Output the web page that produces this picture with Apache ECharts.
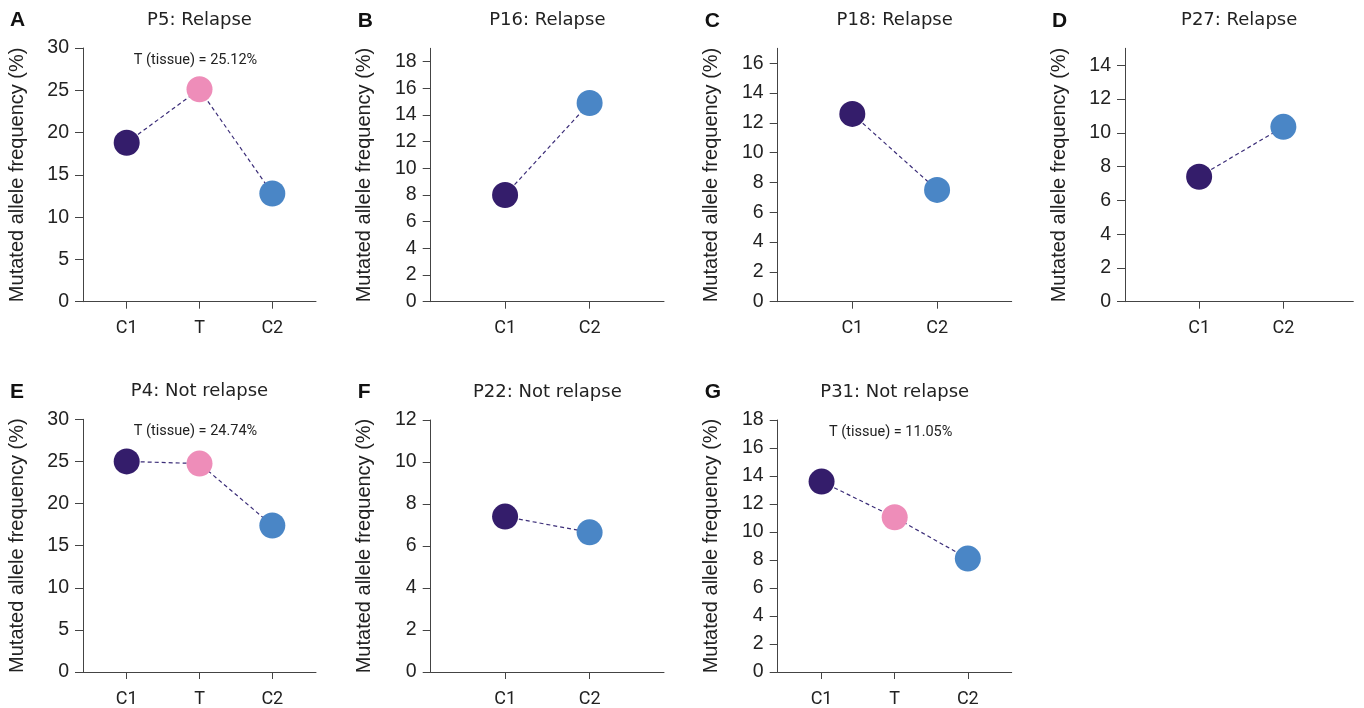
<!DOCTYPE html>
<html>
<head>
<meta charset="utf-8">
<script src="https://cdn.jsdelivr.net/npm/echarts@6/dist/echarts.min.js"></script>
<style>
  html, body { margin: 0; padding: 0; background: #fff; }
  #main { width: 1364px; height: 708px; }
</style>
</head>
<body>
<div id="main"></div>
<script>
// panel data
let letters = ["A", "B", "C", "D", "E", "F", "G"]
let titles = ["P5: Relapse", "P16: Relapse", "P18: Relapse", "P27: Relapse",
  "P4: Not relapse", "P22: Not relapse", "P31: Not relapse"]

let cats3 = ["C1", "T", "C2"]
let cats2 = ["C1", "C2"]

let p5 = [18.8, 25.12, 12.8]
let p16 = [8.0, 14.9]
let p18 = [12.6, 7.5]
let p27 = [7.4, 10.35]
let p4 = [25.0, 24.74, 17.4]
let p22 = [7.4, 6.65]
let p31 = [13.6, 11.05, 8.1]

let notes = ["T (tissue) = 25.12%", "", "", "", "T (tissue) = 24.74%", "", "T (tissue) = 11.05%"]

let ticksA = [0, 5, 10, 15, 20, 25, 30]
let ticksB = [0, 2, 4, 6, 8, 10, 12, 14, 16, 18]
let ticksC = [0, 2, 4, 6, 8, 10, 12, 14, 16]
let ticksD = [0, 2, 4, 6, 8, 10, 12, 14]
let ticksF = [0, 2, 4, 6, 8, 10, 12]
let ticksG = [0, 2, 4, 6, 8, 10, 12, 14, 16, 18]

let colors = { C1: "#341d6b", T: "#ee8db9", C2: "#4a86c6" }

let panels = [
  { cats: cats3, vals: p5, ticks: ticksA, ymax: 30, left: 83, top: 48, w: 233, bottom: 301.7 },
  { cats: cats2, vals: p16, ticks: ticksB, ymax: 19, left: 430.7, top: 48.3, w: 233.3, bottom: 301.7 },
  { cats: cats2, vals: p18, ticks: ticksC, ymax: 17, left: 777.7, top: 48.3, w: 234, bottom: 301.7 },
  { cats: cats2, vals: p27, ticks: ticksD, ymax: 15, left: 1125, top: 48.3, w: 228.3, bottom: 301.7 },
  { cats: cats3, vals: p4, ticks: ticksA, ymax: 30, left: 83, top: 419.3, w: 233, bottom: 673.3 },
  { cats: cats2, vals: p22, ticks: ticksF, ymax: 12, left: 430.7, top: 420, w: 233.3, bottom: 673.3 },
  { cats: cats3, vals: p31, ticks: ticksG, ymax: 18, left: 777.7, top: 420, w: 234, bottom: 673.3 }
]

let axisColor = "#444"
let textColor = "#222"

let grid = [], xAxis = [], yAxis = [], series = [], title = []

panels.forEach((p, i) => {
  let n = p.cats.length
  let idx = p.cats.map((c, k) => k + 1)
  let xmin = n == 3 ? 0.4 : 0.12
  let xmax = n == 3 ? 3.6 : (i == 3 ? 2.83 : 2.88)

  grid.push({ left: p.left, top: p.top, width: p.w, height: p.bottom - p.top })

  xAxis.push({
    type: "value", gridIndex: i, min: xmin, max: xmax,
    splitLine: { show: false },
    axisLine: { show: true, lineStyle: { color: axisColor, width: 1 } },
    axisTick: { show: true, length: 7, customValues: idx, lineStyle: { color: axisColor } },
    axisLabel: {
      customValues: idx, margin: 18, color: textColor, fontSize: 18, fontFamily: "Roboto",
      formatter: v => p.cats[Math.round(v) - 1] || ""
    }
  })

  yAxis.push({
    type: "value", gridIndex: i, min: 0, max: p.ymax,
    name: "Mutated allele frequency (%)", nameLocation: "middle", nameGap: 56,
    nameTextStyle: { color: textColor, fontSize: 20, fontFamily: "Liberation Sans" },
    splitLine: { show: false },
    axisLine: { show: true, lineStyle: { color: axisColor, width: 1 } },
    axisTick: { show: true, length: 8, customValues: p.ticks, lineStyle: { color: axisColor } },
    axisLabel: { customValues: p.ticks, margin: 14, color: textColor, fontSize: 19.5, fontFamily: "Liberation Sans" }
  })

  series.push({
    type: "line", xAxisIndex: i, yAxisIndex: i,
    symbol: "circle", symbolSize: 26,
    lineStyle: { type: [4, 3], width: 1.2, color: "#3b2d78" },
    data: p.vals.map((v, k) => ({ value: [k + 1, v], itemStyle: { color: colors[p.cats[k]] } })),
    z: 3
  })

  title.push({
    text: titles[i], left: p.left + p.w / 2, top: p.top - 37, padding: 0,
    textAlign: "center",
    textStyle: { fontSize: 18, fontWeight: "normal", color: textColor, fontFamily: "DejaVu Sans" }
  })
  title.push({
    text: letters[i], left: p.left - 73, top: p.top - 38, padding: 0,
    textStyle: { fontSize: 21, fontWeight: "bold", color: "#111", fontFamily: "Liberation Sans" }
  })
  if (notes[i]) {
    title.push({
      text: notes[i], left: p.left + p.w / 2 - 4, top: p.top + 5, padding: 0,
      textAlign: "center",
      textStyle: { fontSize: 14.5, fontWeight: "normal", color: textColor, fontFamily: "Roboto" }
    })
  }
})

var myChart = echarts.init(document.getElementById("main"))
myChart.setOption({
  animation: false,
  title: title,
  grid: grid,
  xAxis: xAxis,
  yAxis: yAxis,
  series: series
})
</script>
</body>
</html>
